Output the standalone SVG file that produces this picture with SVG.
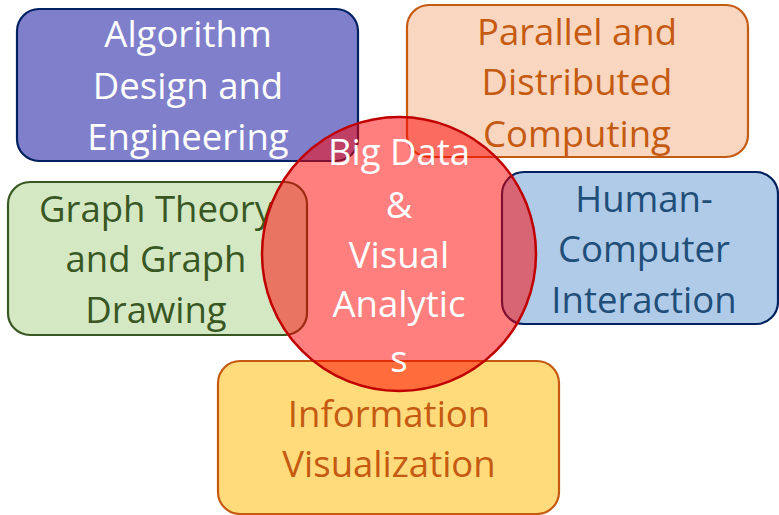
<svg xmlns="http://www.w3.org/2000/svg" width="779" height="515" viewBox="0 0 779 515">
<style>
  .box { stroke-width: 2.2; }
  text { font-family: "Open Sans", "Liberation Sans", sans-serif; font-size: 36.5px; text-anchor: middle; }
</style>
<rect width="779" height="515" fill="#ffffff"/>
<g id="algorithm">
  <rect class="box" x="17" y="9" width="341" height="152" rx="22" fill="#7F7FCB" stroke="#002060"/>
  <text fill="#ffffff"><tspan x="188" y="47">Algorithm</tspan><tspan x="188" y="99">Design and</tspan><tspan x="188" y="150">Engineering</tspan></text>
</g>
<g id="parallel">
  <rect class="box" x="407" y="5" width="341" height="152" rx="22" fill="#F8D6BF" stroke="#C55A11"/>
  <text fill="#C55A11"><tspan x="577" y="45">Parallel and</tspan><tspan x="577" y="95">Distributed</tspan><tspan x="577" y="147">Computing</tspan></text>
</g>
<g id="graph">
  <rect class="box" x="8" y="182" width="299" height="153" rx="22" fill="#D5E8C4" stroke="#385723"/>
  <text fill="#385723"><tspan x="156" y="222">Graph Theory</tspan><tspan x="156" y="272">and Graph</tspan><tspan x="156" y="323">Drawing</tspan></text>
</g>
<g id="hci">
  <rect class="box" x="502" y="172" width="276" height="152" rx="22" fill="#AFCBE8" stroke="#002060"/>
  <text fill="#1F4E79"><tspan x="644" y="212">Human-</tspan><tspan x="644" y="262">Computer</tspan><tspan x="644" y="313">Interaction</tspan></text>
</g>
<g id="infovis">
  <rect class="box" x="218" y="361" width="341" height="153" rx="22" fill="#FFDB7B" stroke="#C55A11"/>
  <text fill="#C55A11"><tspan x="389" y="427">Information</tspan><tspan x="389" y="477">Visualization</tspan></text>
</g>
<g id="bigdata">
  <circle cx="399" cy="254" r="137" fill="#FF0000" fill-opacity="0.5" stroke="#C00000" stroke-width="2.5"/>
  <text fill="#ffffff"><tspan x="399" y="165">Big Data</tspan><tspan x="399" y="218">&amp;</tspan><tspan x="399" y="268">Visual</tspan><tspan x="399" y="317">Analytic</tspan><tspan x="399" y="372">s</tspan></text>
</g>
<g id="connectors"></g>
</svg>
